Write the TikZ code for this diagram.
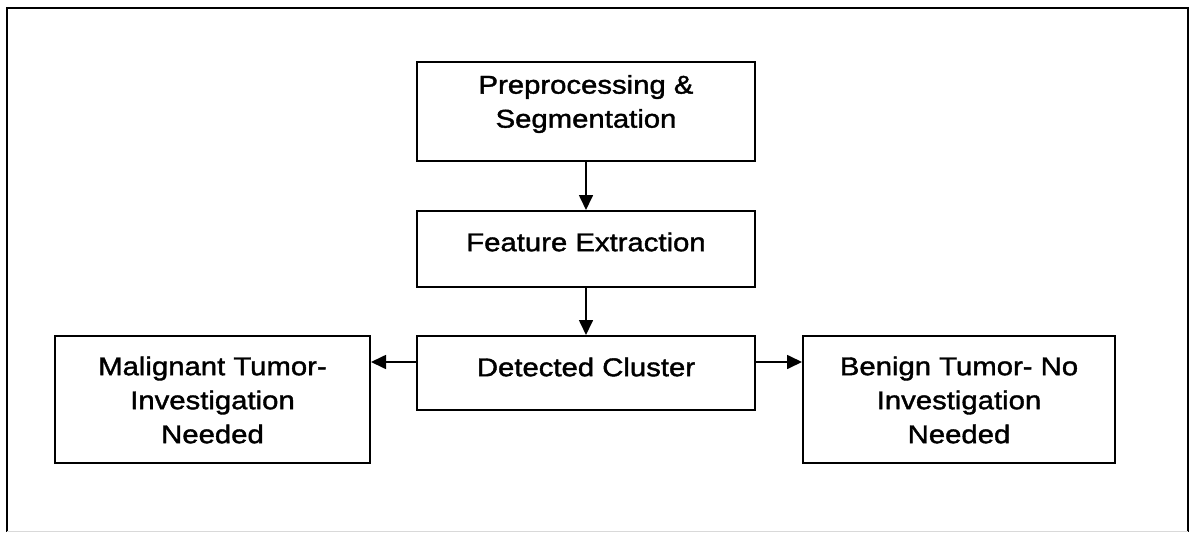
\documentclass[tikz,border=0pt]{standalone}
\usepackage{fontspec}
\setmainfont{Liberation Sans}[FakeStretch=1.14, FakeBold=1.5]
\usetikzlibrary{arrows.meta}
\begin{document}
\begin{tikzpicture}[x=1pt,y=-1pt,
  box/.style={draw=black, line width=2pt, inner sep=0pt},
  lbl/.style={font=\fontsize{25.7}{34}\selectfont, align=center, inner sep=0pt},
  flow/.style={draw=black, line width=1.7pt, -{Triangle[length=15pt,width=14pt]}}]
  \useasboundingbox (0,0) rectangle (1191,533);
  % outer frame: solid on three sides, faint along the bottom
  \draw[line width=2.4pt, line cap=rect] (7,531) -- (7,8) -- (1188,8) -- (1188,531);
  \draw[line width=1pt, black!15] (7,531) -- (1188,531);

  % boxes
  \node[box, minimum width=338pt, minimum height=99pt] (pre) at (586,111.5) {};
  \node[box, minimum width=338pt, minimum height=76pt] (fea) at (586,249) {};
  \node[box, minimum width=338pt, minimum height=74pt] (det) at (586,373) {};
  \node[box, minimum width=315pt, minimum height=127pt] (mal) at (212.5,399.5) {};
  \node[box, minimum width=312pt, minimum height=127pt] (ben) at (959,399.5) {};

  % texts
  \node[lbl] (preT) at (586,104) {Preprocessing \&\\Segmentation};
  \node[lbl] (feaT) at (586,242) {Feature Extraction};
  \node[lbl] (detT) at (586,367) {Detected Cluster};
  \node[lbl] (malT) at (212.5,400) {Malignant Tumor-\\Investigation\\Needed};
  \node[lbl] (benT) at (959,400) {Benign Tumor- No\\Investigation\\Needed};

  % connectors
  \draw[flow] (pre.south) -- (fea.north);
  \draw[flow] (fea.south) -- (det.north);
  \draw[flow] (det.west |- 0,362) -- (mal.east |- 0,362);
  \draw[flow] (det.east |- 0,362) -- (ben.west |- 0,362);
\end{tikzpicture}
\end{document}
